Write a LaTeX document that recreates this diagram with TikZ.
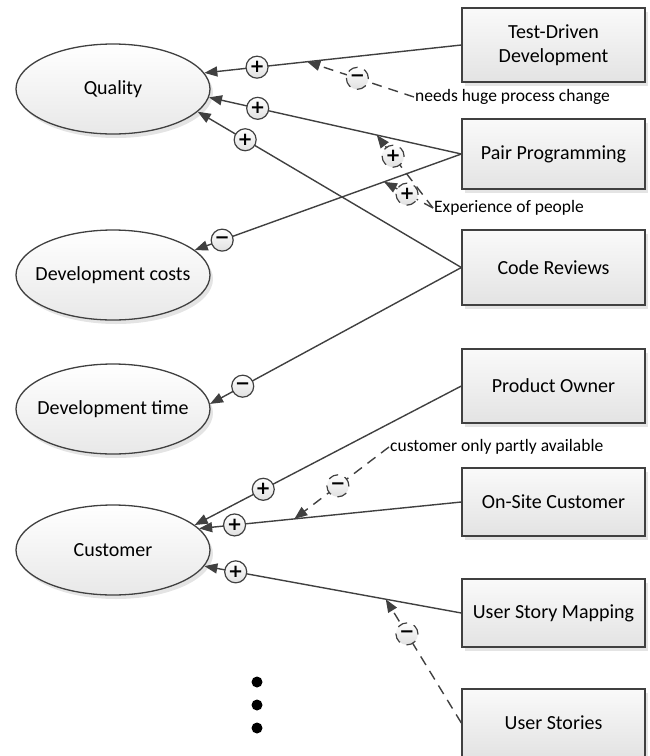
\documentclass[tikz,border=0pt]{standalone}
\usepackage{fontspec}
\setmainfont{Carlito}
\newfontfamily\signfont{DejaVu Sans}
\usetikzlibrary{arrows.meta,shapes.geometric,shadows}
\definecolor{lc}{HTML}{404040}
\newcommand{\ztext}[1]{\makebox[0pt]{#1}}
\begin{document}
\begin{tikzpicture}[x=1pt,y=-1pt,
  shad/.style={drop shadow={shadow xshift=3pt,shadow yshift=-4pt,fill=black!30,opacity=0.35}},
  goal/.style={ellipse,draw=lc,line width=1.3pt,top color=white,bottom color=black!9,
    minimum width=194pt,minimum height=90pt,inner sep=0pt,
    font=\fontsize{20}{24}\selectfont,shad},
  prac/.style={rectangle,draw=lc,line width=1.3pt,top color=black!2,bottom color=black!11,
    minimum width=183pt,inner sep=0pt,align=center,
    font=\fontsize{20}{24}\selectfont,shad},
  lbl/.style={inner sep=1pt,font=\fontsize{17.5}{20}\selectfont},
  sgn/.style={circle,draw=lc,line width=1.2pt,top color=white,bottom color=black!12,
    minimum size=22pt,inner sep=0pt,font=\signfont\bfseries\fontsize{18}{18}\selectfont},
  con/.style={draw=lc,line width=1.4pt,-{Triangle[length=13pt,width=10pt]}},
  dcon/.style={con,dash pattern=on 10pt off 7pt}
]
\useasboundingbox (0,0) rectangle (650,756);

% goals
\node[goal] (Q)  at (113,89)  {\ztext{Quality}};
\node[goal] (DC) at (113,275) {\ztext{Development costs}};
\node[goal] (DT) at (113,409) {\ztext{Development time}};
\node[goal] (C)  at (113,550) {\ztext{Customer}};

% practices
\node[prac,minimum height=74pt] (tdd) at (553.5,45)    {Test-Driven\\Development};
\node[prac,minimum height=70pt] (pp)  at (553.5,154)   {Pair Programming};
\node[prac,minimum height=75pt] (cr)  at (553.5,267.5) {Code Reviews};
\node[prac,minimum height=74pt] (po)  at (553.5,386)   {Product Owner};
\node[prac,minimum height=68pt] (os)  at (553.5,502)   {On-Site Customer};
\node[prac,minimum height=68pt] (usm) at (553.5,613)   {User Story Mapping};
\node[prac,minimum height=68pt] (us)  at (553.5,723)   {User Stories};

% labels
\node[lbl,anchor=west] (l1) at (414,97)  {needs huge process change};
\node[lbl,anchor=west] (l2) at (433,208) {Experience of people};
\node[lbl,anchor=west] (l3) at (389,447) {customer only partly available};

% main influences
\draw[con] (tdd.west) -- coordinate[pos=0.6] (t1) node[pos=0.795,sgn] {+} (Q.10.6);
\draw[con] (pp.west)  -- coordinate[pos=0.335] (t2) node[pos=0.807,sgn] {+} (Q.-5);
\draw[con] (cr.west)  -- node[pos=0.82,sgn] {+} (Q.-15);
\draw[con] (pp.west)  -- coordinate[pos=0.29] (t3) node[pos=0.897,sgn] {−} (DC.17);
\draw[con] (cr.west)  -- node[pos=0.87,sgn] {−} (DT.3);
\draw[con] (po.west)  -- node[pos=0.743,sgn] {+} (C.17);
\draw[con] (os.west)  -- coordinate[pos=0.637] (t4) node[pos=0.865,sgn] {+} (C.14);
\draw[con] (usm.west) -- coordinate[pos=0.294] (t5) node[pos=0.878,sgn] {+} (C.-10);

% moderating influences
\draw[dcon] (l1.west) -- node[pos=0.53,sgn] {−} (t1);
\draw[dcon] (l2.west) -- node[pos=0.71,sgn] {+} (t2);
\draw[dcon] (l2.west) -- node[pos=0.53,sgn] {+} (t3);
\draw[dcon] (l3.west) -- node[pos=0.54,sgn] {−} (t4);
\draw[dcon] (us.west) -- node[pos=0.72,sgn] {−} (t5);

% ellipsis dots
\fill (257,682) circle (5.5pt);
\fill (257,705) circle (5.5pt);
\fill (257,728) circle (5.5pt);
\end{tikzpicture}
\end{document}
